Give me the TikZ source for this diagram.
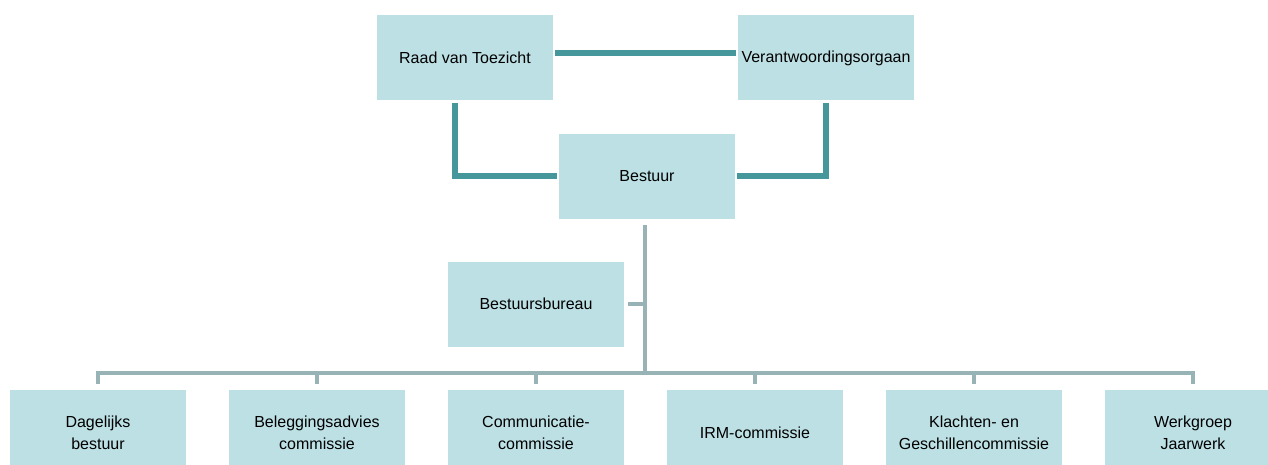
\documentclass[tikz,border=0pt]{standalone}
\usepackage{fontspec}
\setmainfont{Liberation Sans}
\definecolor{boxblue}{HTML}{BCE0E4}
\definecolor{tealline}{HTML}{46979B}
\definecolor{greyline}{HTML}{97B3B5}
\def \boxcolor {boxblue}
\def \toplinecolor {tealline}
\def \sublinecolor {greyline}
\tikzset{
  orgbox/.style={fill=\boxcolor, minimum width=88pt, minimum height=42.5pt,
    inner sep=0pt, align=center, font=\fontsize{8}{11}\selectfont},
  toplink/.style={draw=\toplinecolor, line width=3pt},
  sublink/.style={draw=\sublinecolor, line width=2.2pt}
}

\begin{document}
\begin{tikzpicture}[x=0.5pt,y=-0.5pt]
\useasboundingbox (0,0) rectangle (1268,465);
\clip (0,0) rectangle (1268,465);
% Draw the top boxes
\node[orgbox] (raad) at (465,58) {Raad van Toezicht};
\node[orgbox] (verant) at (826,58) {Verantwoordingsorgaan};
\node[orgbox] (bestuur) at (647,176) {Bestuur};
\node[orgbox] (bureau) at (536,304) {Bestuursbureau};
% Draw the commission boxes
\foreach \i/\name in {1/{Dagelijks\\bestuur}, 2/{Beleggingsadvies\\commissie},
  3/{Communicatie-\\commissie}, 4/{IRM-commissie},
  5/{Klachten- en\\Geschillencommissie}, 6/{Werkgroep\\Jaarwerk}}
  \node[orgbox] (com\i) at ({98+219*(\i-1)},432.5) {\name};
% Draw the lines between the top boxes
\draw[toplink] ([xshift=1pt,yshift=2.5pt]raad.east) -- ([xshift=-1pt,yshift=2.5pt]verant.west);
\draw[toplink] ([xshift=-5pt,yshift=-1pt]raad.south) |- ([xshift=-1pt]bestuur.west);
\draw[toplink] ([yshift=-1pt]verant.south) |- ([xshift=1pt]bestuur.east);
% Draw the lines below Bestuur
\coordinate (bus) at (645,373);
\draw[sublink] ([xshift=-1pt,yshift=-3pt]bestuur.south) -- (bus);
\draw[sublink] ([xshift=2pt]bureau.east) -- (bureau.east -| bus);
\draw[sublink] ([yshift=3pt]com1.north) |- (bus) -| ([yshift=3pt]com6.north);
\foreach \i in {2,...,5}
  \draw[sublink] (com\i.north |- bus) -- ([yshift=3pt]com\i.north);
\end{tikzpicture}
\end{document}
